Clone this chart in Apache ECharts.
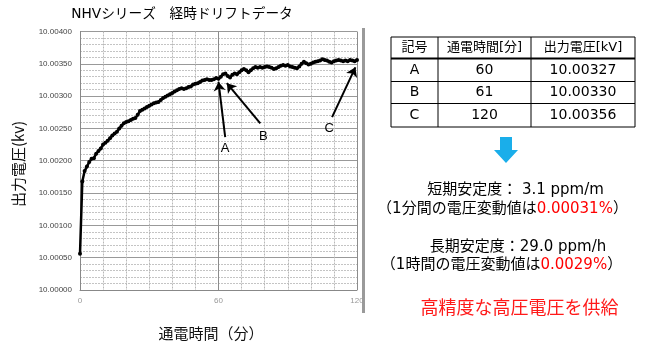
<!DOCTYPE html>
<html><head><meta charset="utf-8">
<script src="https://cdn.jsdelivr.net/npm/echarts@6/dist/echarts.min.js"></script>
<style>html,body{margin:0;padding:0;background:#fff}#c{width:657px;height:357px}</style>
</head><body><div id="c"></div>
<script>
// 通電時間 (分) は 0..120 の毎分
const voltage = [
10.00056,10.00168,10.00184,10.00191,10.00198,10.00203,10.00204,10.00211,10.00215,10.00219,
10.00225,10.00228,10.00231,10.00235,10.00239,10.00242,10.00245,10.00250,10.00254,10.00258,
10.00260,10.00261,10.00263,10.00265,10.00266,10.00271,10.00277,10.00279,10.00281,10.00283,
10.00285,10.00287,10.00289,10.00290,10.00291,10.00294,10.00297,10.00299,10.00301,10.00303,
10.00305,10.00307,10.00309,10.00311,10.00312,10.00311,10.00312,10.00314,10.00315,10.00318,
10.00319,10.00320,10.00322,10.00324,10.00325,10.00326,10.00325,10.00325,10.00326,10.00328,
10.00327,10.00330,10.00334,10.00335,10.00331,10.00329,10.00333,10.00335,10.00334,10.00337,
10.00340,10.00342,10.00340,10.00337,10.00340,10.00343,10.00345,10.00344,10.00345,10.00344,
10.00345,10.00346,10.00345,10.00344,10.00342,10.00343,10.00345,10.00347,10.00348,10.00347,
10.00348,10.00346,10.00345,10.00344,10.00343,10.00346,10.00350,10.00353,10.00351,10.00349,
10.00350,10.00352,10.00353,10.00354,10.00355,10.00357,10.00356,10.00355,10.00353,10.00352,
10.00354,10.00355,10.00356,10.00355,10.00354,10.00355,10.00354,10.00356,10.00355,10.00354,
10.00356];
const xTicks = [0, 60, 120];
const tableHeader = ['記号', '通電時間[分]', '出力電圧[kV]'];
const tableMarks = ['A', 'B', 'C'];
const tableMinutes = ['60', '61', '120'];
const tableVolts = ['10.00327', '10.00330', '10.00356'];
// annotation arrows: [tail, head] in data coordinates, label position
const arrowTails = [[62.9, 10.002366], [78.1, 10.00258], [109.2, 10.002674]];
const arrowHeads = [[60, 10.00322], [63.6, 10.0032], [119.3, 10.003446]];
const arrowLabelPos = [[62.9, 10.002196], [79.4, 10.002381], [108.0, 10.002505]];

const JP = '"Noto Sans CJK JP", sans-serif';
const MIX = '"DejaVu Sans", "Noto Sans CJK JP", sans-serif';
const chart = echarts.init(document.getElementById('c'), null, {renderer: 'canvas'});

const seriesData = voltage.map((v, i) => [i, v]);

const g = [];
// title
g.push({type:'text', x:182, y:14, style:{text:'NHVシリーズ　経時ドリフトデータ', font:'13.7px ' + MIX, fill:'#000', align:'center', verticalAlign:'middle'}});
// y axis name
g.push({type:'text', x:18, y:164, rotation:Math.PI/2, style:{text:'出力電圧(kv)', font:'15px ' + JP, fill:'#111', align:'center', verticalAlign:'middle'}});
// x axis name
g.push({type:'text', x:211, y:333, style:{text:'通電時間（分）', font:'15px ' + JP, fill:'#111', align:'center', verticalAlign:'middle'}});
// separator
g.push({type:'rect', shape:{x:362, y:28, width:3, height:285}, style:{fill:'#9a9a9a'}});
// table
const tx0 = 391, tx1 = 635, ty0 = 37, ty1 = 127;
const colX = [438, 531];
const rowY = [58.5, 81.5, 103.5];
g.push({type:'rect', shape:{x:tx0, y:ty0, width:tx1-tx0, height:ty1-ty0}, style:{fill:'none', stroke:'#000', lineWidth:1}});
colX.forEach(x => g.push({type:'line', shape:{x1:x, y1:ty0, x2:x, y2:ty1}, style:{stroke:'#000', lineWidth:1}}));
rowY.forEach((y, i) => g.push({type:'line', shape:{x1:tx0, y1:y, x2:tx1, y2:y}, style:{stroke:'#000', lineWidth: i === 0 ? 2 : 1}}));
const colC = [414.5, 484.5, 583];
const rowC = [48, 70, 92.5, 115];
tableHeader.forEach((t, j) => g.push({type:'text', x:colC[j], y:rowC[0], style:{text:t, font:'13px ' + MIX, fill:'#000', align:'center', verticalAlign:'middle'}}));
for (let i = 0; i < 3; i++) {
  [tableMarks[i], tableMinutes[i], tableVolts[i]].forEach((t, j) =>
    g.push({type:'text', x:colC[j], y:rowC[i+1], style:{text:t, font:'14px ' + MIX, fill:'#000', align:'center', verticalAlign:'middle'}}));
}
// blue arrow
g.push({type:'polygon', shape:{points:[[500,137],[512,137],[512,150],[518,150],[506,163],[494,150],[500,150]]}, style:{fill:'#1AAEEA'}});
// stability text
const txt = (x, y, text, rich) => g.push({type:'text', x, y, style:{text, rich, font:'15px ' + MIX, fill:'#000', align:'center', verticalAlign:'middle'}});
const richDef = {a:{fontSize:15, fontFamily:MIX, fill:'#000'}, r:{fontSize:15, fontFamily:MIX, fill:'#FF0000'}};
txt(515.5, 190, '短期安定度： 3.1 ppm/m');
txt(502.5, 209, '{a|（1分間の電圧変動値は}{r|0.00031%}{a|）}', richDef);
txt(518, 247, '長期安定度：29.0 ppm/h');
txt(501.5, 265, '{a|（1時間の電圧変動値は}{r|0.0029%}{a|）}', richDef);
g.push({type:'text', x:519.5, y:307, style:{text:'高精度な高圧電圧を供給', font:'18px ' + JP, fill:'#FF1A1A', align:'center', verticalAlign:'middle'}});

const option = {
  animation: false,
  backgroundColor: '#fff',
  grid: {left:80, right:300, top:31.5, bottom:67, containLabel:false},
  xAxis: {
    type:'value', min:xTicks[0], max:xTicks[xTicks.length-1], interval:60,
    axisLine:{show:true, lineStyle:{color:'#888', width:1}},
    axisTick:{show:false},
    axisLabel:{color:'#999', fontSize:8, fontFamily:'Liberation Sans', margin:7},
    splitLine:{show:true, lineStyle:{color:'#8c8c8c', width:1}},
    minorTick:{show:false, splitNumber:6},
    minorSplitLine:{show:true, lineStyle:{color:'#b8b8b8', width:1, type:[2,1]}}
  },
  yAxis: {
    type:'value', min:10.0, max:10.004, interval:0.0005,
    axisLine:{show:true, lineStyle:{color:'#888', width:1}},
    axisTick:{show:false},
    axisLabel:{color:'#444', fontSize:8, fontFamily:'Liberation Sans', margin:8, formatter:v => v.toFixed(5)},
    splitLine:{show:true, lineStyle:{color:'#999', width:1}},
    minorTick:{show:false, splitNumber:5},
    minorSplitLine:{show:true, lineStyle:{color:'#c4c4c4', width:1, type:[2,1]}}
  },
  series: [{
    type:'line', data:seriesData, symbol:'circle', symbolSize:4, showSymbol:true,
    itemStyle:{color:'#000'}, lineStyle:{color:'#000', width:2.5},
    z:3,
    markLine:{
      silent:true, symbol:['none','arrow'], symbolSize:9, animation:false,
      lineStyle:{color:'#000', width:2, type:'solid'},
      label:{show:false},
      emphasis:{disabled:true},
      data: arrowTails.map((t, i) => [{coord:t}, {coord:arrowHeads[i]}])
    },
    markPoint:{
      silent:true, symbol:'circle', symbolSize:1, animation:false,
      itemStyle:{color:'rgba(0,0,0,0)'},
      label:{show:true, position:'inside', formatter:'{b}', color:'#000', fontSize:13, fontFamily:'Liberation Sans'},
      data: arrowLabelPos.map((p, i) => ({name:tableMarks[i], coord:p}))
    }
  }],
  graphic: {elements: g}
};
chart.setOption(option);
</script>
</body></html>
